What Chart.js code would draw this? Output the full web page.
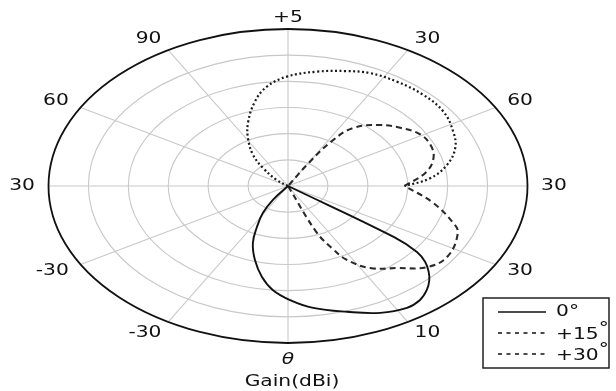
<!DOCTYPE html>
<html>
<head>
<meta charset="utf-8">
<script src="https://cdn.jsdelivr.net/npm/chart.js@4/dist/chart.umd.min.js"></script>
<style>
  html, body { margin: 0; padding: 0; background: #fff; }
  #wrap { width: 616px; height: 391px; }
</style>
</head>
<body>
<div id="wrap"><canvas id="polar"></canvas></div>
<script>
// rings of the polar grid (outer ring = 6) and spoke directions
const ringValues = [1, 2, 3, 4, 5, 6];
const spokeAngles = [0, 30, 60, 90, 120, 150, 180, 210, 240, 270, 300, 330];
const angleLabels = ['30', '60', '30', '+5', '90', '60', '30', '-30', '-30', 'θ', '10', '30'];
const seriesLabels = ['0°', '+15°', '+30°'];

// 0° beam (solid)
const angles0 = [-128, -125.6, -121.4, -116.4, -112, -106.3, -100.6, -95.5, -89.3, -82.3, -72.9, -64.5, -57.4, -52.8, -48.8, -45.5, -42.8, -40.2, -38, -36.3, -36];
const gain0   = [0, 0.65, 1.21, 1.75, 2.35, 2.95, 3.54, 3.99, 4.36, 4.7, 5.03, 5.37, 5.53, 5.47, 5.28, 5.05, 4.8, 4.5, 4.1, 3.3, 0];

// +15° beam (dotted)
const angles15 = [146, 140.6, 132.4, 126.4, 118.8, 112.1, 104.4, 98, 90.4, 80.6, 71.5, 64.5, 55.7, 45.8, 36.1, 26.6, 19, 11.4, 4.7, 0];
const gain15   = [0, 0.37, 0.92, 1.47, 2.08, 2.65, 3.33, 3.83, 4.18, 4.43, 4.63, 4.78, 4.83, 4.86, 4.82, 4.63, 4.43, 4.06, 3.57, 2.92];

// +30° beam (dashed), notch at 0°
const angles30 = [-70, -68, -65, -62.4, -56.7, -48.9, -41.7, -34, -22.9, -18.8, -10, 0, 8.7, 16.4, 23.8, 31, 38, 45.3, 53.7, 57.5, 59.5, 60];
const gain30   = [0, 1.9, 2.65, 3.19, 3.75, 4.16, 4.66, 4.82, 4.62, 4.37, 3.69, 2.92, 3.5, 3.8, 3.9, 3.85, 3.6, 3.28, 2.75, 2.0, 1.0, 0];
const notchIndex = 11;

function toXY(angles, gains) {
  return angles.map((a, i) => ({
    x: gains[i] * Math.cos(a * Math.PI / 180),
    y: gains[i] * Math.sin(a * Math.PI / 180)
  }));
}

const rMax = ringValues[ringValues.length - 1];
const pts30 = toXY(angles30, gain30);

function lineSet(data, dash, width, color) {
  return {
    data: data,
    showLine: true,
    borderColor: color,
    borderWidth: width,
    borderDash: dash,
    pointRadius: 0,
    tension: 0.4,
    fill: false
  };
}

const FONT = '15px "DejaVu Sans"';
const STRETCH = 1.35;

function stretchedText(ctx, text, x, y, align, font) {
  ctx.save();
  ctx.translate(x, y);
  ctx.scale(STRETCH, 1);
  ctx.font = font || FONT;
  ctx.textAlign = align;
  ctx.textBaseline = 'middle';
  ctx.fillText(text, 0, 0);
  ctx.restore();
}

const polarGrid = {
  id: 'polarGrid',
  beforeDatasetsDraw(chart) {
    const { ctx, scales: { x, y } } = chart;
    const cx = x.getPixelForValue(0), cy = y.getPixelForValue(0);
    const ux = x.getPixelForValue(1) - cx, uy = cy - y.getPixelForValue(1);
    ctx.save();
    ctx.strokeStyle = '#c8c8c8';
    ctx.lineWidth = 1.1;
    spokeAngles.forEach(a => {
      const t = a * Math.PI / 180;
      ctx.beginPath();
      ctx.moveTo(cx, cy);
      ctx.lineTo(cx + rMax * ux * Math.cos(t), cy - rMax * uy * Math.sin(t));
      ctx.stroke();
    });
    ringValues.forEach(r => {
      if (r === rMax) return;
      ctx.beginPath();
      ctx.ellipse(cx, cy, r * ux, r * uy, 0, 0, Math.PI * 2);
      ctx.stroke();
    });
    ctx.strokeStyle = '#111';
    ctx.lineWidth = 1.8;
    ctx.beginPath();
    ctx.ellipse(cx, cy, rMax * ux, rMax * uy, 0, 0, Math.PI * 2);
    ctx.stroke();
    ctx.restore();
  },
  afterDraw(chart) {
    const { ctx, scales: { x, y } } = chart;
    const cx = x.getPixelForValue(0), cy = y.getPixelForValue(0);
    const ux = x.getPixelForValue(1) - cx, uy = cy - y.getPixelForValue(1);
    ctx.save();
    ctx.fillStyle = '#111';
    // angle labels round the rim
    spokeAngles.forEach((a, i) => {
      const t = a * Math.PI / 180;
      const c = Math.cos(t), s = Math.sin(t);
      let px = cx + 6.34 * ux * c;
      let py = cy - 6.5 * uy * s;
      let align = 'center';
      if (c > 0.1) align = 'left';
      else if (c < -0.1) align = 'right';
      if (Math.abs(c) < 0.1) px = cx;
      let font = FONT;
      if (a === 90) py = cy - rMax * uy - 11;
      if (angleLabels[i] === 'θ') {
        font = 'italic 15px "DejaVu Sans"';
        py = cy + rMax * uy + 17;
      }
      stretchedText(ctx, angleLabels[i], px, py, align, font);
    });
    // radial axis title
    stretchedText(ctx, 'Gain(dBi)', cx + 4, cy + rMax * uy + 39, 'center');

    // legend box
    const bx = 483, by = 298, bw = 126, bh = 70;
    ctx.strokeStyle = '#222';
    ctx.lineWidth = 1.5;
    ctx.strokeRect(bx, by, bw, bh);
    const rows = [
      { dash: [], label: seriesLabels[0] },
      { dash: [4, 4.5], label: seriesLabels[1] },
      { dash: [4, 4.5], label: seriesLabels[2] }
    ];
    rows.forEach((row, i) => {
      const ry = by + 14 + i * 21;
      ctx.save();
      ctx.strokeStyle = '#111';
      ctx.lineWidth = 1.6;
      ctx.setLineDash(row.dash);
      ctx.beginPath();
      ctx.moveTo(bx + 15, ry);
      ctx.lineTo(bx + 63, ry);
      ctx.stroke();
      ctx.restore();
      if (i === 0) {
        stretchedText(ctx, row.label, bx + 73, ry, 'left');
      } else {
        const base = row.label.replace('°', '');
        stretchedText(ctx, base, bx + 73, ry + 2, 'left');
        ctx.font = FONT;
        const w = ctx.measureText(base).width * STRETCH;
        stretchedText(ctx, '°', bx + 73 + w, ry - 4, 'left');
      }
    });
    ctx.restore();
  }
};

new Chart(document.getElementById('polar').getContext('2d'), {
  type: 'scatter',
  data: {
    datasets: [
      lineSet(toXY(angles0, gain0), [], 1.9, '#111'),
      lineSet(toXY(angles15, gain15), [2, 2.5], 2.2, '#1a1a1a'),
      lineSet(pts30.slice(0, notchIndex + 1), [6, 4], 2.1, '#2a2a2a'),
      lineSet(pts30.slice(notchIndex), [6, 4], 2.1, '#2a2a2a')
    ]
  },
  options: {
    responsive: true,
    maintainAspectRatio: false,
    animation: false,
    layout: { padding: { left: 48.5, right: 88.5, top: 29, bottom: 48 } },
    scales: {
      x: { type: 'linear', min: -rMax, max: rMax, display: false },
      y: { type: 'linear', min: -rMax, max: rMax, display: false }
    },
    plugins: {
      legend: { display: false },
      tooltip: { enabled: false }
    }
  },
  plugins: [polarGrid]
});
</script>
</body>
</html>
